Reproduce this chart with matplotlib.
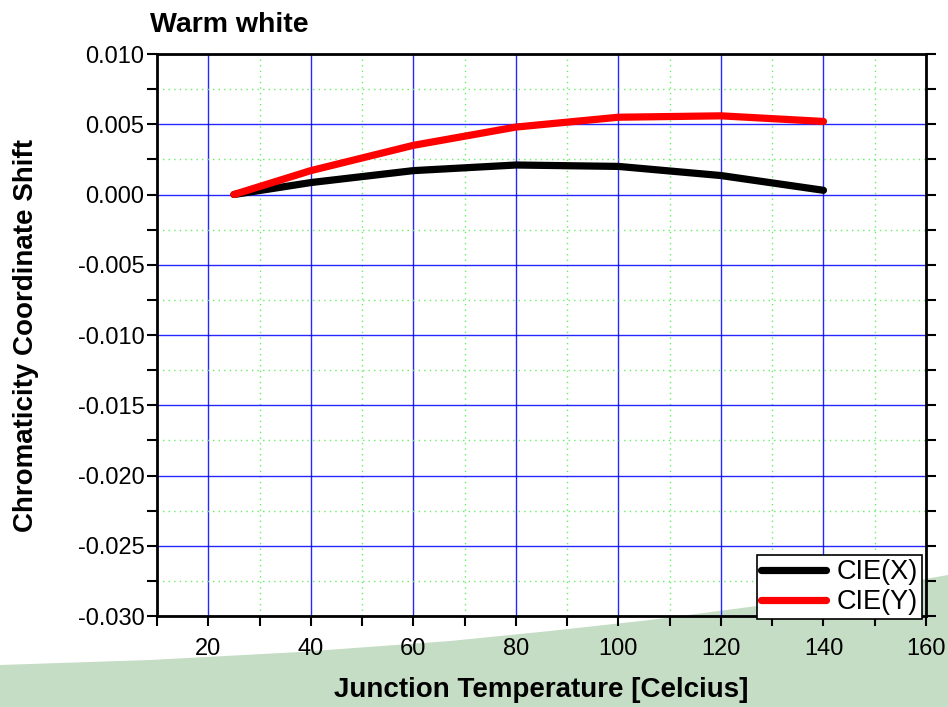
import matplotlib.pyplot as plt
import numpy as np
from matplotlib.patches import Polygon
from matplotlib.ticker import MultipleLocator

plt.rcParams['font.family'] = ['Liberation Sans', 'DejaVu Sans']

temps = [25, 40, 60, 80, 100, 120, 140]
cie_x = [0.0, 0.00085, 0.0017, 0.0021, 0.0020, 0.00135, 0.0003]
cie_y = [0.0, 0.0017, 0.0035, 0.0048, 0.0055, 0.0056, 0.0052]

fig = plt.figure(figsize=(9.48, 7.07), dpi=100)

# green decorative band at the bottom (figure pixel coords -> fraction)
bx = np.array([0, 150, 300, 450, 550, 650, 757, 850, 948])
by = np.array([665, 660, 652, 641, 631, 620, 606, 592, 575])
pts = [(x / 948, 1 - y / 707) for x, y in zip(bx, by)] + [(1, 0), (0, 0)]
fig.patches.append(Polygon(pts, closed=True, transform=fig.transFigure,
                           facecolor='#c5dcc5', edgecolor='none', zorder=-5))

ax = fig.add_axes([0.1656, 0.1287, 0.8112, 0.7949])
ax.set_facecolor('none')

ax.plot(temps, cie_x, color='black', lw=5.2, solid_capstyle='round', label='CIE(X)', zorder=3)
ax.plot(temps, cie_y, color='#ff0000', lw=5.2, solid_capstyle='round', label='CIE(Y)', zorder=3)

ax.set_xlim(10, 160)
ax.set_ylim(-0.030, 0.010)
ax.xaxis.set_major_locator(MultipleLocator(20))
ax.xaxis.set_minor_locator(MultipleLocator(10))
ax.yaxis.set_major_locator(MultipleLocator(0.005))
ax.yaxis.set_minor_locator(MultipleLocator(0.0025))
ax.set_xticks([20, 40, 60, 80, 100, 120, 140, 160])
ax.set_yticks(np.arange(-0.030, 0.0101, 0.005))
ax.set_yticklabels(['%.3f' % v for v in np.arange(-0.030, 0.0101, 0.005)])

ax.grid(which='major', color='#0000ff', lw=1.0, alpha=0.85)
ax.grid(which='minor', color='#66ee66', lw=1.0, ls=(0, (1, 3)))
ax.set_axisbelow(True)

for s in ax.spines.values():
    s.set_linewidth(2)
ax.tick_params(which='both', direction='out', width=1.5, labelsize=17, top=False, right=True)
ax.tick_params(which='both', length=7)
ax.tick_params(axis='x', pad=9)
ax.tick_params(axis='y', which='both', right=True, pad=2)

ax.set_xlabel('Junction Temperature [Celcius]', fontsize=20, fontweight='bold', labelpad=12)
ax.set_ylabel('Chromaticity Coordinate Shift', fontsize=20, fontweight='bold', labelpad=28)
fig.text(150 / 948, 1 - 25 / 707, 'Warm white', fontsize=20.5, fontweight='bold', va='center')

leg = ax.legend(loc='lower right', bbox_to_anchor=(0.995, -0.006), fontsize=19.5,
                handlelength=2.4, frameon=True, fancybox=False, borderpad=0.15,
                labelspacing=0.15, handletextpad=0.4, borderaxespad=0)
leg.get_frame().set_edgecolor('black')
leg.get_frame().set_linewidth(1.2)
leg.get_frame().set_alpha(1)

fig.savefig('out.png', dpi=100)
